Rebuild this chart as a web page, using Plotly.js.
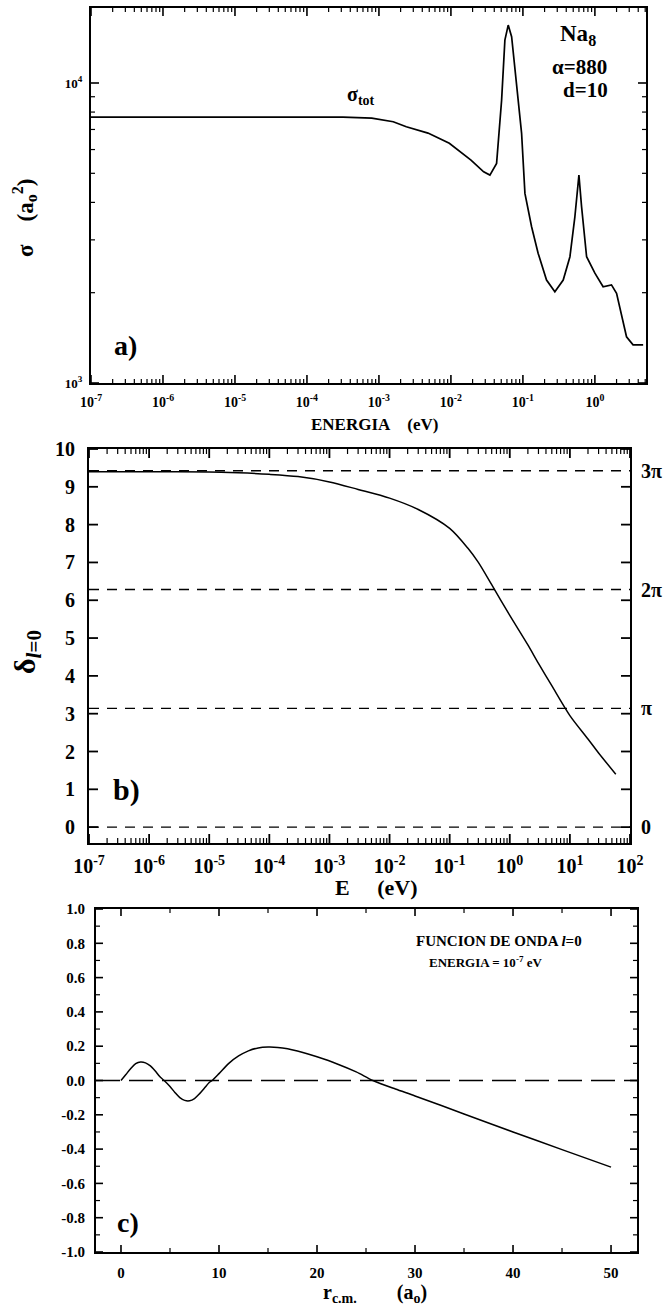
<!DOCTYPE html>
<html><head><meta charset="utf-8">
<script src="https://cdn.plot.ly/plotly-3.0.1.min.js"></script>
<style>html,body{margin:0;padding:0;background:#fff}</style>
</head><body><div id="chart" style="width:670px;height:1309px"></div>
<script>
// ---------- Panel a: total cross section vs energy ----------
const energyA = [1e-7, 1e-5, 1e-4, 3.16e-4, 7.94e-4, 1.58e-3, 2.4e-3, 4.8e-3, 9.5e-3, 0.019, 0.0285, 0.0348,
  0.0431, 0.0506, 0.0562, 0.0625, 0.0697, 0.0817, 0.0959, 0.1067, 0.132, 0.163, 0.213, 0.278,
  0.363, 0.450, 0.527, 0.600, 0.653, 0.767, 1.0, 1.30, 1.70, 2.0, 2.35, 2.75, 3.39, 4.68];
const sigmaTot = [7690, 7690, 7690, 7690, 7640, 7430, 7145, 6808, 6295, 5534, 5058, 4932,
  5395, 8770, 13900, 15600, 14260, 9977, 6792, 4285, 3319, 2704, 2203, 2014,
  2203, 2636, 3581, 4932, 3873, 2636, 2323, 2094, 2123, 1991, 1663, 1426, 1340, 1340];
const xTicksA = [1e-7, 1e-6, 1e-5, 1e-4, 1e-3, 1e-2, 1e-1, 1];
const xTickTextA = ['10<sup>-7</sup>', '10<sup>-6</sup>', '10<sup>-5</sup>', '10<sup>-4</sup>', '10<sup>-3</sup>', '10<sup>-2</sup>', '10<sup>-1</sup>', '10<sup>0</sup>'];
const yTicksA = [1e3, 1e4];
const yTickTextA = ['10<sup>3</sup>', '10<sup>4</sup>'];

// ---------- Panel b: s-wave phase shift ----------
const energyB = [1e-7, 1e-6, 1e-5, 3e-5, 1e-4, 3e-4, 1e-3, 3e-3, 1e-2, 3e-2, 0.1, 0.2, 0.3, 0.5,
  1, 2, 3, 5, 10, 20, 30, 58];
const delta0 = [9.40, 9.40, 9.39, 9.37, 9.33, 9.27, 9.13, 8.93, 8.70, 8.40, 7.90, 7.38, 7.00, 6.41,
  5.60, 4.82, 4.33, 3.74, 2.95, 2.33, 1.96, 1.40];
const xTicksB = [1e-7, 1e-6, 1e-5, 1e-4, 1e-3, 1e-2, 1e-1, 1, 10, 100];
const xTickTextB = ['10<sup>-7</sup>', '10<sup>-6</sup>', '10<sup>-5</sup>', '10<sup>-4</sup>', '10<sup>-3</sup>', '10<sup>-2</sup>', '10<sup>-1</sup>', '10<sup>0</sup>', '10<sup>1</sup>', '10<sup>2</sup>'];
const yTicksB = [0, 1, 2, 3, 4, 5, 6, 7, 8, 9, 10];
const piMultiples = [0, 1, 2, 3];
const piLabels = ['0', 'π', '2π', '3π'];

// ---------- Panel c: wave function l=0 ----------
const rcm = [0, 0.5, 1, 1.5, 2, 2.5, 3, 3.5, 4, 4.4, 5, 5.5, 6, 6.5, 7, 7.5, 8, 8.5, 9, 9.3,
  10, 11, 12, 13, 14, 15, 16, 17, 18, 19, 20, 22, 24, 25.7, 28, 30, 35, 40, 45, 50];
const psi0 = [0, 0.035, 0.07, 0.098, 0.108, 0.103, 0.085, 0.055, 0.02, 0, -0.035, -0.07, -0.1, -0.116, -0.118, -0.105, -0.078, -0.045, -0.012, 0,
  0.04, 0.1, 0.143, 0.173, 0.19, 0.195, 0.193, 0.185, 0.172, 0.156, 0.138, 0.098, 0.05, 0.0, -0.05, -0.09, -0.195, -0.3, -0.403, -0.505];
const xTicksC = [0, 10, 20, 30, 40, 50];
const xMinorC = [5, 15, 25, 35, 45];
const yTicksC = [-1, -0.8, -0.6, -0.4, -0.2, 0, 0.2, 0.4, 0.6, 0.8, 1];
const yMinorC = [-0.9, -0.7, -0.5, -0.3, -0.1, 0.1, 0.3, 0.5, 0.7, 0.9];

// ---------- helpers ----------
const W = 670, H = 1309;
const fx = p => p / W, fy = p => 1 - p / H;
const serif = '"Liberation Serif", "Times New Roman", serif';
const bold = (size) => ({family: serif, size: size, color: '#000', weight: 'bold'});
function logMinor(lo, hi, maxV) {
  const out = [];
  for (let d = lo; d < hi; d++) for (let m = 2; m <= 9; m++) {
    const v = m * Math.pow(10, d);
    if (v <= maxV) out.push(v);
  }
  return out;
}
function mainAxis(extra) {
  return Object.assign({
    showline: true, linewidth: 2, linecolor: '#000', mirror: true, ticks: '',
    showgrid: false, zeroline: false, fixedrange: true, tickmode: 'array', ticklabelstandoff: 5
  }, extra);
}

const domA = {x: [fx(91), fx(646)], y: [fy(383), fy(8)]};
const domB = {x: [fx(89), fx(630)], y: [fy(843), fy(449)]};
const domC = {x: [fx(96), fx(637)], y: [fy(1252), fy(909)]};
const rangeA = {x: [-7, 0.71], y: [3, 4.25], xlog: true, ylog: true};
const rangeB = {x: [-7, 2], y: [-0.42, 10], xlog: true, ylog: false};
const rangeC = {x: [-2.55, 52.65], y: [-1, 1], xlog: false, ylog: false};

// inward tick marks on all four sides, drawn as a line trace through the axes' scales
const fromR = (r, log) => log ? Math.pow(10, r) : r;
function tickTrace(xId, yId, dom, rg, xVals, yVals, len, width) {
  const hPx = (dom.y[1] - dom.y[0]) * H, wPx = (dom.x[1] - dom.x[0]) * W;
  const dy = len / hPx * (rg.y[1] - rg.y[0]);
  const dx = len / wPx * (rg.x[1] - rg.x[0]);
  const xs = [], ys = [];
  xVals.forEach(v => {
    xs.push(v, v, null, v, v, null);
    ys.push(fromR(rg.y[0], rg.ylog), fromR(rg.y[0] + dy, rg.ylog), null,
            fromR(rg.y[1], rg.ylog), fromR(rg.y[1] - dy, rg.ylog), null);
  });
  yVals.forEach(v => {
    ys.push(v, v, null, v, v, null);
    xs.push(fromR(rg.x[0], rg.xlog), fromR(rg.x[0] + dx, rg.xlog), null,
            fromR(rg.x[1], rg.xlog), fromR(rg.x[1] - dx, rg.xlog), null);
  });
  return {x: xs, y: ys, xaxis: xId, yaxis: yId, mode: 'lines', connectgaps: false,
    line: {color: '#000', width: width}, hoverinfo: 'skip'};
}

const traces = [
  {x: energyA, y: sigmaTot, xaxis: 'x', yaxis: 'y', mode: 'lines', line: {color: '#000', width: 1.7}, hoverinfo: 'skip'},
  {x: energyB, y: delta0, xaxis: 'x2', yaxis: 'y2', mode: 'lines', line: {color: '#000', width: 1.5, shape: 'spline', smoothing: 0.8}, hoverinfo: 'skip'},
  {x: rcm, y: psi0, xaxis: 'x3', yaxis: 'y3', mode: 'lines', line: {color: '#000', width: 1.5, shape: 'spline', smoothing: 0.8}, hoverinfo: 'skip'},
  tickTrace('x', 'y', domA, rangeA, xTicksA, yTicksA, 8, 1.6),
  tickTrace('x', 'y', domA, rangeA, logMinor(-7, 1, Math.pow(10, rangeA.x[1])), logMinor(3, 5, Math.pow(10, rangeA.y[1])), 4, 1.2),
  tickTrace('x2', 'y2', domB, rangeB, xTicksB, yTicksB, 9, 1.8),
  tickTrace('x2', 'y2', domB, rangeB, logMinor(-7, 2, 100), [], 5, 1.2),
  tickTrace('x3', 'y3', domC, rangeC, xTicksC, yTicksC, 7, 1.6),
  tickTrace('x3', 'y3', domC, rangeC, xMinorC, yMinorC, 4, 1.2),
];

const shapes = piMultiples.map(k => ({
  type: 'line', xref: 'x2 domain', x0: 0, x1: 1, yref: 'y2', y0: k * Math.PI, y1: k * Math.PI,
  line: {color: '#000', width: 1.4, dash: '10px,8px'}
}));
shapes.push({type: 'line', xref: 'x3 domain', x0: 0, x1: 1, yref: 'y3', y0: 0, y1: 0,
  line: {color: '#000', width: 1.4, dash: '24px,9px'}});

const ann = (text, x, y, size, extra) => Object.assign({
  text: text, xref: 'paper', yref: 'paper', x: fx(x), y: fy(y), showarrow: false,
  font: bold(size), xanchor: 'center', yanchor: 'middle'
}, extra || {});
const NB = '\u00a0';
const annotations = [
  ann('σ<sub>tot</sub>', 361, 95, 20),
  ann('Na<sub>8</sub>', 578, 35, 23),
  ann('α=880', 579, 67, 21),
  ann('d=10', 585, 90, 21),
  ann('a)', 125, 345, 28),
  ann('σ' + NB.repeat(4) + '(a<sub>o</sub><sup>2</sup>)', 25, 218, 23, {textangle: -90}),
  ann('ENERGIA' + NB.repeat(4) + '(eV)', 375, 424, 17),
  ann('b)', 126, 790, 30),
  ann('δ<sub><i>l</i>=0</sub>', 27, 652, 30, {textangle: -90}),
  ann('E' + NB.repeat(5) + '(eV)', 376, 888, 22),
  ann('c)', 128, 1222, 28),
  ann('FUNCION DE ONDA <i>l</i>=0', 499, 941, 15),
  ann('ENERGIA = 10<sup>-7</sup> eV', 485, 962, 13),
  ann('r<sub>c.m.</sub>' + NB.repeat(8) + '(a<sub>o</sub>)', 375, 1293, 20),
];
piMultiples.forEach((k, i) => annotations.push({
  text: piLabels[i], xref: 'paper', yref: 'y2', x: fx(639), y: k * Math.PI,
  xanchor: 'left', yanchor: 'middle', showarrow: false, font: bold(20)
}));

const layout = {
  width: W, height: H, margin: {l: 0, r: 0, t: 0, b: 0},
  paper_bgcolor: '#fff', plot_bgcolor: '#fff', showlegend: false,
  xaxis: mainAxis({type: 'log', range: rangeA.x, domain: domA.x, anchor: 'y',
    tickvals: xTicksA, ticktext: xTickTextA, tickfont: bold(14)}),
  yaxis: mainAxis({type: 'log', range: rangeA.y, domain: domA.y, anchor: 'x',
    tickvals: yTicksA, ticktext: yTickTextA, tickfont: bold(13), ticklabelstandoff: 4}),
  xaxis2: mainAxis({type: 'log', range: rangeB.x, domain: domB.x, anchor: 'y2',
    tickvals: xTicksB, ticktext: xTickTextB, tickfont: bold(20), ticklabelstandoff: 4}),
  yaxis2: mainAxis({range: rangeB.y, domain: domB.y, anchor: 'x2',
    tickvals: yTicksB, ticktext: yTicksB.map(String), tickfont: bold(20), ticklabelstandoff: 8}),
  xaxis3: mainAxis({range: rangeC.x, domain: domC.x, anchor: 'y3',
    tickvals: xTicksC, ticktext: xTicksC.map(String), tickfont: bold(15), ticklabelstandoff: 6}),
  yaxis3: mainAxis({range: rangeC.y, domain: domC.y, anchor: 'x3',
    tickvals: yTicksC, ticktext: yTicksC.map(v => v.toFixed(1)), tickfont: bold(15), ticklabelstandoff: 6}),
  shapes: shapes,
  annotations: annotations,
};

Plotly.newPlot('chart', traces, layout, {displayModeBar: false, staticPlot: true});
</script>
</body></html>
